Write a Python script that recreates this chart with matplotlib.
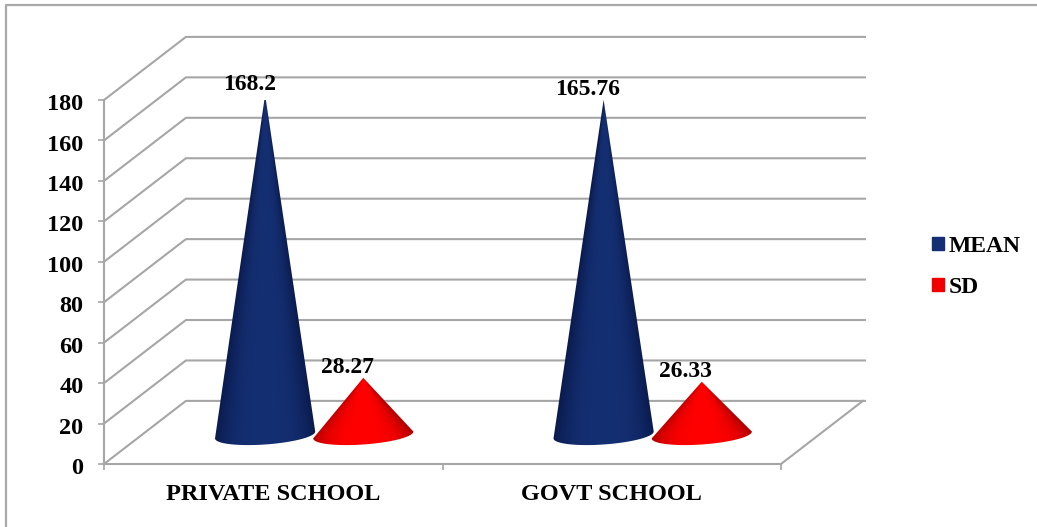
import numpy as np
from matplotlib import pyplot as plt
from matplotlib.colors import to_rgb
from matplotlib.lines import Line2D
from matplotlib.patches import Patch, Polygon
from matplotlib.transforms import ScaledTranslation

plt.rcParams['font.family'] = ['Liberation Serif', 'DejaVu Serif']
plt.rcParams['font.weight'] = 'bold'

# Data
schools = ['PRIVATE SCHOOL', 'GOVT SCHOOL']
mean_values = [168.2, 165.76]
sd_values = [28.27, 26.33]
mean_labels = ['168.2', '165.76']
sd_labels = ['28.27', '26.33']
y_ticks = [0, 20, 40, 60, 80, 100, 120, 140, 160, 180]

W, H = 1037, 527
grid_color = '#a6a6a6'
navy_edge, navy_mid = '#0a1a4c', '#142f72'
red_edge, red_mid = '#b00000', '#ff0000'

# fake 3D: how far the back wall is shifted from the front plane
depth_x = 0.242
depth_y = 31.2

fig = plt.figure(figsize=(W / 100, H / 100), dpi=100)
ax = fig.add_axes([104 / W, 1 - 464 / H, 677 / W, 364 / H])
ax.set_xlim(-0.5, 1.5)
ax.set_ylim(0, 180)
ax.patch.set_alpha(0)

# outer frame of the chart, open on the right and bottom
fig.add_artist(Line2D([6 / W, 6 / W, 1], [0, 1 - 5 / H, 1 - 5 / H], color='#a8a8a8', lw=1.6))

# gridlines: wall diagonal + back wall
for v in y_ticks:
    ax.plot([-0.5, -0.5 + depth_x, 1.5 + depth_x + 0.006],
            [v, v + depth_y, v + depth_y],
            color=grid_color, lw=1.5, clip_on=False, zorder=1)
ax.plot([1.5, 1.5 + depth_x], [0, depth_y], color=grid_color, lw=1.5, clip_on=False, zorder=1)

for name in ['top', 'right']:
    ax.spines[name].set_visible(False)
for name in ['left', 'bottom']:
    ax.spines[name].set_color(grid_color)
    ax.spines[name].set_linewidth(1.5)

ax.set_yticks(y_ticks)
ax.tick_params(axis='y', length=4.3, width=1.2, color=grid_color, pad=10.5, labelsize=17.5)
# y labels sit a little below their ticks in the original
for label in ax.get_yticklabels():
    label.set_transform(label.get_transform() + ScaledTranslation(0, -1.5 / 72, fig.dpi_scale_trans))
ax.set_xticks([0, 1])
ax.set_xticklabels(schools)
ax.set_xticks([-0.5, 0.5, 1.5], minor=True)
ax.tick_params(axis='x', which='major', length=0, pad=14.5, labelsize=17.5)
ax.tick_params(axis='x', which='minor', length=4.3, width=1.2, color=grid_color)


def draw_cone(xc, value, edge, mid):
    # base is a sheared ellipse sitting half way into the floor
    yc = depth_y * 0.46
    a, b, shear = 0.148, 4.7, 1.7
    t = np.linspace(np.pi, 2 * np.pi, 60)
    ex = xc + a * np.cos(t)
    ey = yc + shear * np.cos(t) + b * np.sin(t)
    tip_y = value + yc
    outline = np.vstack([[xc, tip_y], np.column_stack([ex, ey])])

    xs = np.linspace(xc - a * 1.02, xc + a * 1.02, 200)
    ys = np.linspace(yc - b * 1.5, tip_y, 400)
    gx, gy = np.meshgrid(xs, ys)
    half = np.maximum(a * (tip_y - gy) / (tip_y - yc), 1e-4)
    half = np.minimum(half, a)
    s = np.clip(np.abs(gx - xc) / half, 0, 1) ** 3
    img = np.zeros(gx.shape + (3,))
    for i in range(3):
        img[..., i] = to_rgb(mid)[i] * (1 - s) + to_rgb(edge)[i] * s
    im = ax.imshow(img, origin='lower', aspect='auto', zorder=3,
                   extent=(xs[0], xs[-1], ys[0], ys[-1]))
    im.set_clip_path(Polygon(outline, closed=True, transform=ax.transData))
    return tip_y


offset = 0.145
for i in range(len(schools)):
    x0 = i + depth_x / 2
    tip = draw_cone(x0 - offset, mean_values[i], navy_edge, navy_mid)
    ax.annotate(mean_labels[i], (x0 - offset, tip), xytext=(-11.5, 3.5),
                textcoords='offset points', ha='center', va='baseline',
                fontsize=17, annotation_clip=False, zorder=5)
    tip = draw_cone(x0 + offset, sd_values[i], red_edge, red_mid)
    ax.annotate(sd_labels[i], (x0 + offset, tip), xytext=(-11.5, 3.5),
                textcoords='offset points', ha='center', va='baseline',
                fontsize=17, annotation_clip=False, zorder=5)

ax.set_xlim(-0.5, 1.5)
ax.set_ylim(0, 180)

handles = [Patch(color=navy_mid, label='MEAN'), Patch(color='#f00000', label='SD')]
fig.legend(handles=handles, loc='center left', bbox_to_anchor=(932 / W, 1 - 267 / H),
           frameon=False, fontsize=17, borderpad=0, borderaxespad=0,
           handlelength=0.5, handleheight=0.5, handletextpad=0.2, labelspacing=0.85)

plt.savefig('out.png', dpi=100)
